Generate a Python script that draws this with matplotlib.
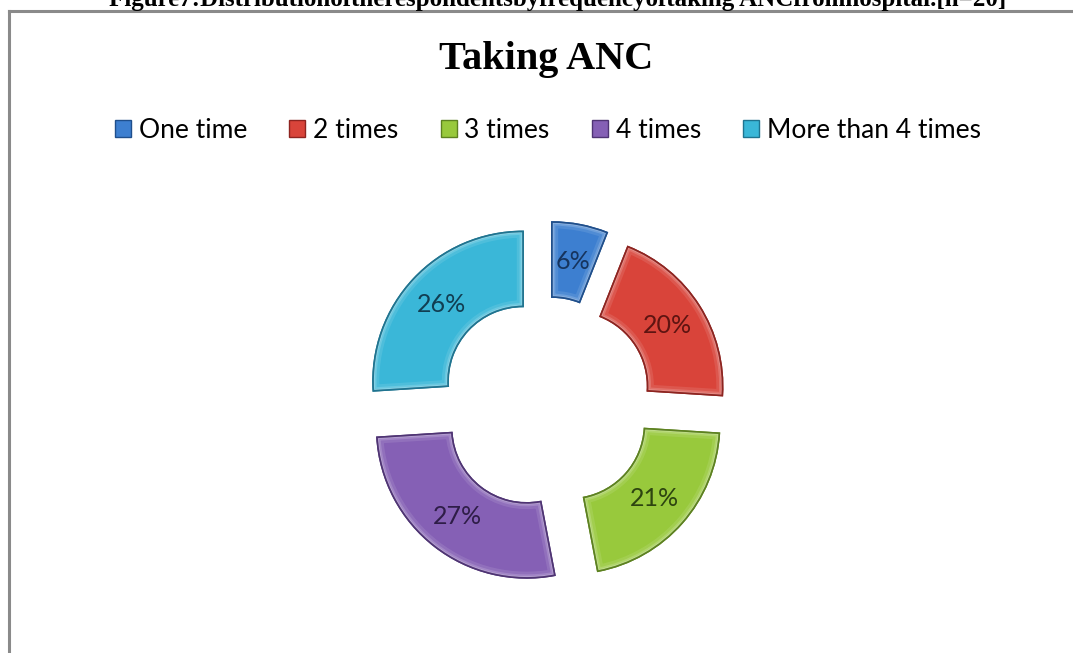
import matplotlib.pyplot as plt
from matplotlib.patches import Patch, Wedge
import numpy as np

# ANC visit frequency, share of respondents (%)
categories = ['One time', '2 times', '3 times', '4 times', 'More than 4 times']
shares = [6, 20, 21, 27, 26]
colors = ['#3d7fd0', '#d9443a', '#98c93c', '#8560b5', '#3ab7d8']
edge_colors = ['#1f4f8c', '#8e2420', '#5d8220', '#4f3474', '#1f7490']
label_colors = ['#16345e', '#5e1411', '#2d4410', '#2e1d47', '#113e52']

W, H = 1073, 653
fig = plt.figure(figsize=(W / 100, H / 100), dpi=100)
fig.patch.set_facecolor('white')

# frame round the chart area
frame_top = 1 - 11 / H
fig.add_artist(plt.Line2D([9 / W, 9 / W], [0, frame_top],
                          color='#8a8a8a', lw=2.2, transform=fig.transFigure))
fig.add_artist(plt.Line2D([9 / W, 1], [frame_top, frame_top],
                          color='#8a8a8a', lw=2.2, transform=fig.transFigure))

# figure caption above the frame (cut by the page edge)
fig.text(558 / W, 1 - 6 / H, 'Figure7:Distributionoftherespondentsbyfrequencyoftaking ANCfromhospital.[n=20]',
         ha='center', va='baseline', fontsize=18, fontweight='bold',
         family='Liberation Serif')

fig.text(546 / W, 1 - 60 / H, 'Taking ANC', ha='center', va='center',
         fontsize=29, fontweight='bold', family='Liberation Serif')

ax = fig.add_axes([0, 0, 1, 1])
scale = 150.0
cx, cy = 546, H - 403
explode = [0.21] * len(shares)

wedges, texts, autotexts = ax.pie(
    shares, colors=colors, startangle=90, counterclock=False,
    explode=explode, autopct='%d%%', pctdistance=0.75,
    wedgeprops=dict(width=0.5, linewidth=1.2),
    textprops=dict(fontsize=18, family='Lato'))

for w, ec in zip(wedges, edge_colors):
    w.set_edgecolor(ec)
    # soft bevel: light rim inside each segment, clipped to its shape
    for lw, a in [(9, 0.10), (5, 0.16), (2.5, 0.22)]:
        rim = Wedge(w.center, w.r, w.theta1, w.theta2, width=w.width,
                    facecolor='none', edgecolor='white', lw=lw, alpha=a, zorder=w.get_zorder() + 0.1)
        ax.add_patch(rim)
        rim.set_clip_path(w)
    outline = Wedge(w.center, w.r, w.theta1, w.theta2, width=w.width,
                    facecolor='none', edgecolor=ec, lw=1.2, zorder=w.get_zorder() + 0.2)
    ax.add_patch(outline)
for t, c in zip(autotexts, label_colors):
    t.set_color(c)
    t.set_zorder(5)

ax.set_xlim(-cx / scale, (W - cx) / scale)
ax.set_ylim(-cy / scale, (H - cy) / scale)
ax.axis('off')

handles = [Patch(facecolor=c, edgecolor=e, label=l)
           for c, e, l in zip(colors, edge_colors, categories)]
fig.legend(handles=handles, loc='center', bbox_to_anchor=(548 / W, 1 - 130 / H),
           ncol=5, frameon=False, handlelength=0.6, handleheight=0.6,
           handletextpad=0.3, columnspacing=1.6, prop=dict(family='Lato', size=19))

fig.savefig('out.png', dpi=100)
